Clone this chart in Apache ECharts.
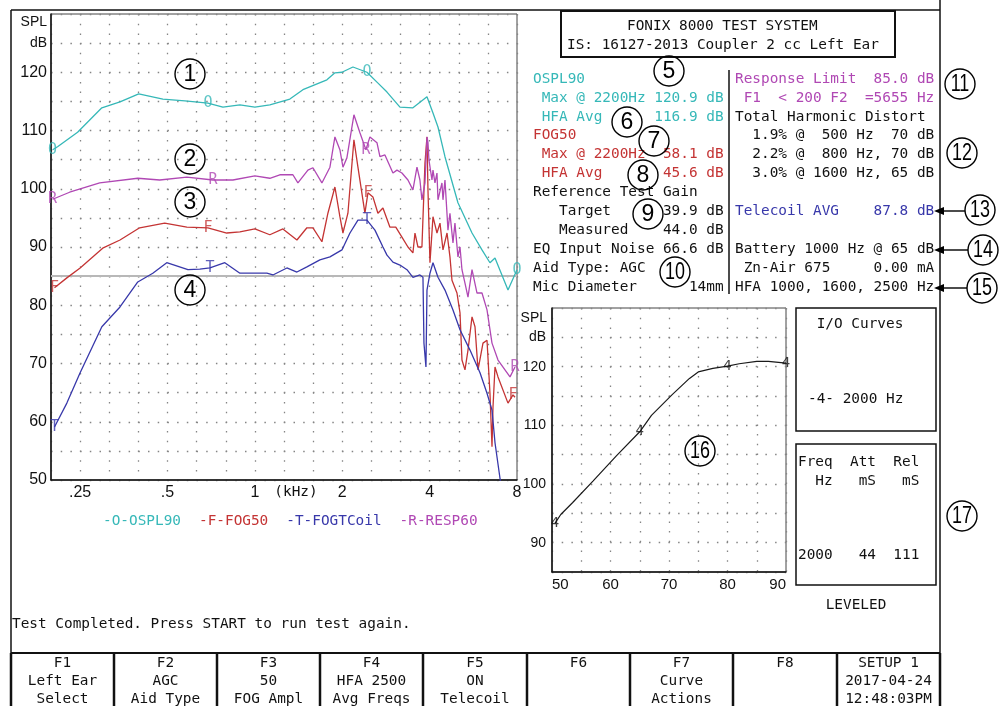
<!DOCTYPE html>
<html>
<head>
<meta charset="utf-8">
<title>FONIX 8000 Test System</title>
<script src="https://cdn.jsdelivr.net/npm/echarts@6/dist/echarts.min.js"></script>
<style>
  html, body { margin: 0; padding: 0; background: #fff; }
  #chart { width: 999px; height: 706px; }
</style>
</head>
<body>
<div id="chart"></div>
<script>
// fonts
const MONO = '"DejaVu Sans Mono", "Liberation Mono", monospace';
const SANS = '"Liberation Sans", Arial, sans-serif';

// curves of the coupler test
const curveNames = ['OSPL90', 'FOG50', 'FOGTCoil', 'RESP60'];
const curveLetters = ['O', 'F', 'T', 'R'];
const curveColors = ['#36b8b8', '#c43434', '#3838aa', '#b048b4'];

const ospl90Hz = [201, 209, 245, 297, 343, 398, 482, 574, 689, 776, 888, 1000, 1126, 1320, 1464, 1771, 1887, 1995, 2177, 2433, 2634, 2852, 3161, 3504, 3917, 4108, 4274, 4518, 5008, 5599, 6060, 6456, 6719, 7448, 8000];
const ospl90Db = [106.7, 107.2, 109.7, 113.9, 114.9, 116.3, 115.4, 115.1, 114.7, 114.0, 114.4, 114.0, 114.4, 115.4, 117.0, 118.7, 119.9, 120.0, 120.9, 120.0, 118.3, 116.6, 114.0, 113.9, 115.8, 113.0, 110.6, 105.5, 97.6, 92.4, 89.5, 87.3, 88.1, 82.6, 86.1];
const ospl90Marks = [201, 689, 2433, 8000];

const fog50Hz = [204, 225, 250, 299, 343, 401, 489, 583, 689, 800, 888, 1000, 1126, 1249, 1396, 1511, 1585, 1702, 1785, 1887, 1963, 2011, 2092, 2194, 2265, 2394, 2452, 2551, 2654, 2762, 2920, 3058, 3211, 3368, 3504, 3561, 3646, 3763, 3855, 3917, 3948, 4011, 4108, 4240, 4343, 4447, 4592, 4700, 4776, 4969, 5090, 5170, 5295, 5423, 5599, 5733, 5872, 6108, 6306, 6456, 6561, 6613, 6719, 6881, 7448, 7750, 7874];
const fog50Db = [83.0, 84.7, 86.4, 89.8, 91.2, 93.3, 94.1, 93.4, 93.3, 92.4, 92.6, 93.1, 92.1, 93.1, 91.2, 93.3, 93.3, 90.9, 95.8, 100.3, 95.2, 92.4, 95.8, 108.4, 103.7, 95.8, 99.3, 98.6, 95.8, 96.7, 93.4, 93.4, 91.7, 90.0, 89.0, 92.4, 90.0, 90.0, 104.4, 108.9, 99.8, 87.3, 95.2, 92.4, 94.1, 89.5, 92.4, 88.3, 84.3, 82.1, 78.7, 70.6, 68.9, 72.3, 78.0, 76.3, 68.9, 73.5, 74.0, 64.9, 55.7, 62.5, 69.4, 67.7, 63.2, 64.6, 64.2];
const fog50Marks = [204, 689, 2452, 7750];

const tcoilHz = [204, 225, 250, 297, 343, 395, 445, 497, 588, 646, 700, 788, 888, 1000, 1100, 1154, 1289, 1396, 1511, 1675, 1814, 1995, 2126, 2265, 2433, 2592, 2762, 2852, 2990, 3161, 3342, 3504, 3704, 3794, 3824, 3885, 3917, 4011, 4108, 4274, 4518, 4814, 5090, 5510, 5965, 6306, 6561, 6719, 6990, 7273];
const tcoilDb = [59.1, 63.2, 68.4, 76.3, 79.7, 84.0, 85.5, 87.3, 86.1, 86.2, 86.4, 87.3, 85.5, 85.5, 85.5, 85.2, 86.4, 85.7, 86.6, 87.8, 88.3, 89.5, 92.4, 94.6, 94.6, 92.9, 90.0, 88.6, 87.4, 86.9, 86.1, 84.8, 85.2, 84.8, 73.5, 69.4, 82.6, 85.5, 87.3, 84.8, 82.6, 79.2, 75.8, 72.3, 68.4, 64.9, 62.0, 56.4, 50.3, 45.0];
const tcoilMarks = [204, 700, 2433];

const resp60Hz = [201, 230, 292, 395, 470, 583, 717, 840, 1000, 1126, 1219, 1352, 1407, 1523, 1585, 1702, 1814, 1887, 1963, 2011, 2075, 2194, 2301, 2413, 2491, 2634, 2697, 2806, 2990, 3087, 3211, 3368, 3504, 3618, 3704, 3763, 3855, 3917, 3948, 3979, 4075, 4108, 4173, 4240, 4274, 4411, 4447, 4518, 4627, 4700, 4814, 4890, 5008, 5090, 5170, 5295, 5423, 5599, 5825, 6060, 6306, 6561, 6881, 7568, 7874];
const resp60Db = [98.2, 99.4, 101.0, 101.8, 101.5, 102.0, 101.5, 101.5, 102.2, 101.8, 102.4, 102.4, 101.0, 103.2, 103.6, 101.0, 103.7, 108.9, 106.7, 103.7, 105.3, 112.7, 109.6, 106.7, 108.9, 107.9, 105.5, 105.8, 102.7, 103.2, 102.7, 101.5, 99.8, 103.7, 101.5, 98.1, 101.0, 108.9, 107.9, 104.9, 101.5, 103.2, 101.0, 102.7, 98.1, 101.0, 98.1, 101.5, 92.9, 95.8, 90.7, 94.1, 88.3, 90.0, 86.1, 83.8, 81.4, 86.1, 82.1, 82.1, 79.2, 73.5, 70.6, 67.7, 69.4];
const resp60Marks = [201, 717, 2413, 7874];

const responseLimitDb = 85;

// frequency axis ticks (kHz)
const freqTickKhz = [0.25, 0.5, 1, 2, 4, 8];
const freqTickText = ['.25', '.5', '1', '2', '4', '8'];

// I/O curve at 2000 Hz
const ioInput = [50.5, 51.5, 53.5, 57, 61, 65, 67, 70.5, 73.5, 75, 77.5, 80, 82, 85, 87, 90];
const ioOutput = [93.3, 94.8, 96.8, 100.5, 104.8, 108.9, 111.7, 115.2, 118.0, 119.1, 119.7, 120.1, 120.5, 120.9, 120.9, 120.6];
const ioMarks = [50.5, 65, 80, 90];

// text panels
const leftPanel = [
  ['OSPL90', 0], [' Max @ 2200Hz 120.9 dB', 0], [' HFA Avg      116.9 dB', 0],
  ['FOG50', 1], [' Max @ 2200Hz  58.1 dB', 1], [' HFA Avg       45.6 dB', 1],
  ['Reference Test Gain', -1], ['   Target      39.9 dB', -1], ['   Measured    44.0 dB', -1],
  ['EQ Input Noise 66.6 dB', -1], ['Aid Type: AGC', -1], ['Mic Diameter      14mm', -1]
];
const rightPanel = [
  ['Response Limit  85.0 dB', 3], [' F1  < 200 F2  =5655 Hz', 3], ['Total Harmonic Distort', -1],
  ['  1.9% @  500 Hz  70 dB', -1], ['  2.2% @  800 Hz, 70 dB', -1], ['  3.0% @ 1600 Hz, 65 dB', -1],
  ['', -1], ['Telecoil AVG    87.8 dB', 2], ['', -1],
  ['Battery 1000 Hz @ 65 dB', -1], [' Zn-Air 675     0.00 mA', -1], ['HFA 1000, 1600, 2500 Hz', -1]
];
const keyEdges = [11, 114, 217, 320, 423, 527, 630, 733, 837, 940];
const keyLines = [
  ['F1', 'Left Ear', 'Select'], ['F2', 'AGC', 'Aid Type'], ['F3', '50', 'FOG Ampl'],
  ['F4', 'HFA 2500', 'Avg Freqs'], ['F5', 'ON', 'Telecoil'], ['F6'],
  ['F7', 'Curve', 'Actions'], ['F8'], ['SETUP 1', '2017-04-24', '12:48:03PM']
];

const toOct = hz => 3 * Math.log2(hz / 1000);

function pts(hz, db) {
  return hz.map((f, i) => [toOct(f), db[i]]);
}
function markPts(hz, db, marks) {
  return marks.map(f => {
    const i = hz.indexOf(f);
    return [toOct(hz[i]), db[i]];
  });
}

const curveHz = [ospl90Hz, fog50Hz, tcoilHz, resp60Hz];
const curveDb = [ospl90Db, fog50Db, tcoilDb, resp60Db];
const curveMarks = [ospl90Marks, fog50Marks, tcoilMarks, resp60Marks];

const series = [];
curveNames.forEach((name, i) => {
  const s = {
    name: name,
    type: 'line',
    xAxisIndex: 0,
    yAxisIndex: 0,
    data: pts(curveHz[i], curveDb[i]),
    showSymbol: false,
    symbol: 'none',
    lineStyle: { color: curveColors[i], width: 1.3 },
    itemStyle: { color: curveColors[i] },
    z: 3
  };
  if (name === 'RESP60') {
    s.markLine = {
      silent: true,
      symbol: ['none', 'none'],
      label: { show: false },
      lineStyle: { color: '#b8b8b8', width: 2, type: 'solid' },
      data: [{ yAxis: responseLimitDb }],
      z: 1
    };
  }
  series.push(s);
  series.push({
    name: name + ' marks',
    type: 'scatter',
    xAxisIndex: 0,
    yAxisIndex: 0,
    data: markPts(curveHz[i], curveDb[i], curveMarks[i]),
    symbolSize: 1,
    clip: false,
    silent: true,
    itemStyle: { color: 'rgba(0,0,0,0)' },
    label: {
      show: true, position: 'inside', formatter: curveLetters[i],
      color: curveColors[i], fontFamily: MONO, fontSize: 15
    },
    z: 4
  });
});

series.push({
  name: 'I/O 2000 Hz',
  type: 'line',
  xAxisIndex: 1,
  yAxisIndex: 1,
  data: ioInput.map((v, i) => [v, ioOutput[i]]),
  showSymbol: false,
  symbol: 'none',
  lineStyle: { color: '#1a1a1a', width: 1.2 },
  z: 3
});
series.push({
  name: 'I/O marks',
  type: 'scatter',
  xAxisIndex: 1,
  yAxisIndex: 1,
  data: ioMarks.map(v => [v, ioOutput[ioInput.indexOf(v)]]),
  symbolSize: 1,
  clip: false,
  silent: true,
  itemStyle: { color: 'rgba(0,0,0,0)' },
  label: { show: true, position: 'inside', formatter: '4', color: '#111', fontFamily: MONO, fontSize: 14 },
  z: 4
});

// ---- graphic helpers
function txt(x, y, s, color, font, align) {
  return {
    type: 'text', x: x, y: y, silent: true, z: 10,
    style: {
      text: s, fill: color || '#111', font: font || ('14.4px ' + MONO),
      align: align || 'left', verticalAlign: 'middle',
      textAlign: align || 'left', textVerticalAlign: 'middle'
    }
  };
}
function line(x1, y1, x2, y2, w) {
  return { type: 'line', silent: true, z: 10, shape: { x1: x1, y1: y1, x2: x2, y2: y2 }, style: { stroke: '#111', lineWidth: w || 1.5 } };
}
function box(x, y, w, h, lw) {
  return { type: 'rect', silent: true, z: 10, shape: { x: x, y: y, width: w, height: h }, style: { fill: 'rgba(0,0,0,0)', stroke: '#111', lineWidth: lw || 1.5 } };
}
function circNum(cx, cy, n) {
  const t = txt(cx, cy + 1, String(n), '#000', '23px ' + SANS, 'center');
  if (n > 9) t.scaleX = 0.78;
  return [
    { type: 'circle', silent: true, z: 11, shape: { cx: cx, cy: cy, r: 15 }, style: { fill: 'rgba(0,0,0,0)', stroke: '#000', lineWidth: 1.4 } },
    t
  ];
}
function arrow(x1, x2, y) {
  return [
    line(x1 + 6, y, x2, y, 1.5),
    { type: 'polygon', silent: true, z: 10, shape: { points: [[x1, y], [x1 + 10, y - 4], [x1 + 10, y + 4]] }, style: { fill: '#000' } }
  ];
}

const panelColor = c => (c < 0 ? '#111' : curveColors[c]);
let graphics = [];

// screen frame
graphics.push(line(11, 10, 940, 10, 1.5));
graphics.push(line(11, 10, 11, 706, 1.5));
graphics.push(line(940, 0, 940, 706, 1.5));
graphics.push(line(11, 653, 940, 653, 2));

// title box
graphics.push({ type: 'rect', silent: true, z: 9, shape: { x: 561, y: 11, width: 334, height: 46 }, style: { fill: '#fff', stroke: '#111', lineWidth: 2 } });
graphics.push(txt(627, 26, 'FONIX 8000 TEST SYSTEM'));
graphics.push(txt(567, 45, 'IS: 16127-2013 Coupler 2 cc Left Ear'));

// panels
leftPanel.forEach((r, i) => graphics.push(txt(533, 79 + i * 18.9, r[0], panelColor(r[1]))));
rightPanel.forEach((r, i) => { if (r[0]) graphics.push(txt(735, 79 + i * 18.9, r[0], panelColor(r[1]))); });
graphics.push(line(729, 70, 729, 294, 1.5));

// axis unit captions
graphics.push(txt(47, 22, 'SPL', '#111', '14px ' + SANS, 'right'));
graphics.push(txt(547, 318, 'SPL', '#111', '14px ' + SANS, 'right'));

// I/O boxes
graphics.push(box(796, 308, 140, 123));
graphics.push(txt(860, 324, 'I/O Curves', '#111', null, 'center'));
graphics.push(txt(808, 399, '-4- 2000 Hz'));
graphics.push(box(796, 444, 140, 141));
graphics.push(txt(798, 462, 'Freq  Att  Rel'));
graphics.push(txt(798, 481, '  Hz   mS   mS'));
graphics.push(txt(798, 555, '2000   44  111'));
graphics.push(txt(856, 605, 'LEVELED', '#111', null, 'center'));

// status line
graphics.push(txt(12, 624, 'Test Completed. Press START to run test again.'));

// function keys
keyEdges.forEach(x => graphics.push(line(x, 653, x, 706, 2.5)));
keyLines.forEach((ls, i) => {
  const cx = (keyEdges[i] + keyEdges[i + 1]) / 2;
  ls.forEach((s, j) => graphics.push(txt(cx, 663 + j * 18, s, '#111', null, 'center')));
});

// callouts
const callouts = [
  [190, 74, 1], [190, 159, 2], [190, 202, 3], [190, 290, 4],
  [669, 71, 5], [627, 122, 6], [654, 141, 7], [643, 175, 8], [648, 214, 9], [675, 272, 10],
  [960, 84, 11], [962, 153, 12], [980, 210, 13], [983, 250, 14], [982, 288, 15],
  [700, 451, 16], [962, 516, 17]
];
callouts.forEach(c => { graphics = graphics.concat(circNum(c[0], c[1], c[2])); });
graphics = graphics.concat(arrow(934, 965, 211), arrow(934, 968, 250), arrow(934, 967, 288));

const gridDots = { show: true, lineStyle: { color: '#858585', type: [1.5, 8.2], width: 1.3 } };
const axisBlack = { show: true, onZero: false, lineStyle: { color: '#111', width: 1.5 } };

const chart = echarts.init(document.getElementById('chart'), null, { renderer: 'canvas', width: 999, height: 706 });
chart.setOption({
  animation: false,
  backgroundColor: '#fff',
  grid: [
    { left: 51, right: 482, top: 14, bottom: 226, show: true, borderColor: '#444', borderWidth: 1, backgroundColor: 'rgba(0,0,0,0)' },
    { left: 552, right: 213, top: 308, bottom: 134, show: true, borderColor: '#444', borderWidth: 1, backgroundColor: 'rgba(0,0,0,0)' }
  ],
  legend: {
    left: 93, top: 509, itemGap: 13, itemWidth: 0, itemHeight: 0, selectedMode: false,
    data: curveNames.map((n, i) => ({ name: n, icon: 'none', textStyle: { color: curveColors[i] } })),
    formatter: n => '-' + curveLetters[curveNames.indexOf(n)] + '-' + n,
    textStyle: { fontFamily: MONO, fontSize: 14.4 }
  },
  xAxis: [
    {
      type: 'value', gridIndex: 0, min: -7, max: 9, interval: 1,
      axisLine: axisBlack, axisTick: { show: false }, splitLine: gridDots,
      axisLabel: {
        margin: 5, fontFamily: SANS, fontSize: 16, color: '#111',
        showMinLabel: true, showMaxLabel: true,
        formatter: v => {
          const i = freqTickKhz.findIndex(k => Math.abs(toOct(k * 1000) - v) < 1e-6);
          return i < 0 ? '' : freqTickText[i];
        }
      },
      name: '(kHz)', nameLocation: 'middle', nameGap: 5, nameMoveOverlap: false,
      nameTextStyle: { fontFamily: MONO, fontSize: 14.4, color: '#111', padding: [0, 0, 0, 24], verticalAlign: 'top' }
    },
    {
      type: 'value', gridIndex: 1, min: 50, max: 90, interval: 5,
      axisLine: axisBlack, axisTick: { show: false }, splitLine: gridDots,
      axisLabel: {
        margin: 5, fontFamily: SANS, fontSize: 15, color: '#111',
        alignMinLabel: 'left', alignMaxLabel: 'right',
        formatter: v => (v % 10 === 0 ? String(v) : '')
      }
    }
  ],
  yAxis: [
    {
      type: 'value', gridIndex: 0, min: 50, max: 130, interval: 5,
      axisLine: axisBlack, axisTick: { show: false }, splitLine: gridDots,
      axisLabel: {
        margin: 4, fontFamily: SANS, fontSize: 16, color: '#111',
        formatter: v => (v === 125 ? '{u|dB}' : (v % 10 === 0 && v < 130 ? String(v) : '')),
        rich: { u: { fontFamily: SANS, fontSize: 14, color: '#111' } }
      }
    },
    {
      type: 'value', gridIndex: 1, min: 85, max: 130, interval: 5,
      axisLine: axisBlack, axisTick: { show: false }, splitLine: gridDots,
      axisLabel: {
        margin: 6, fontFamily: SANS, fontSize: 14, color: '#111',
        formatter: v => (v === 125 ? 'dB' : (v % 10 === 0 && v < 130 ? String(v) : ''))
      }
    }
  ],
  series: series,
  graphic: { elements: graphics }
});
</script>
</body>
</html>
